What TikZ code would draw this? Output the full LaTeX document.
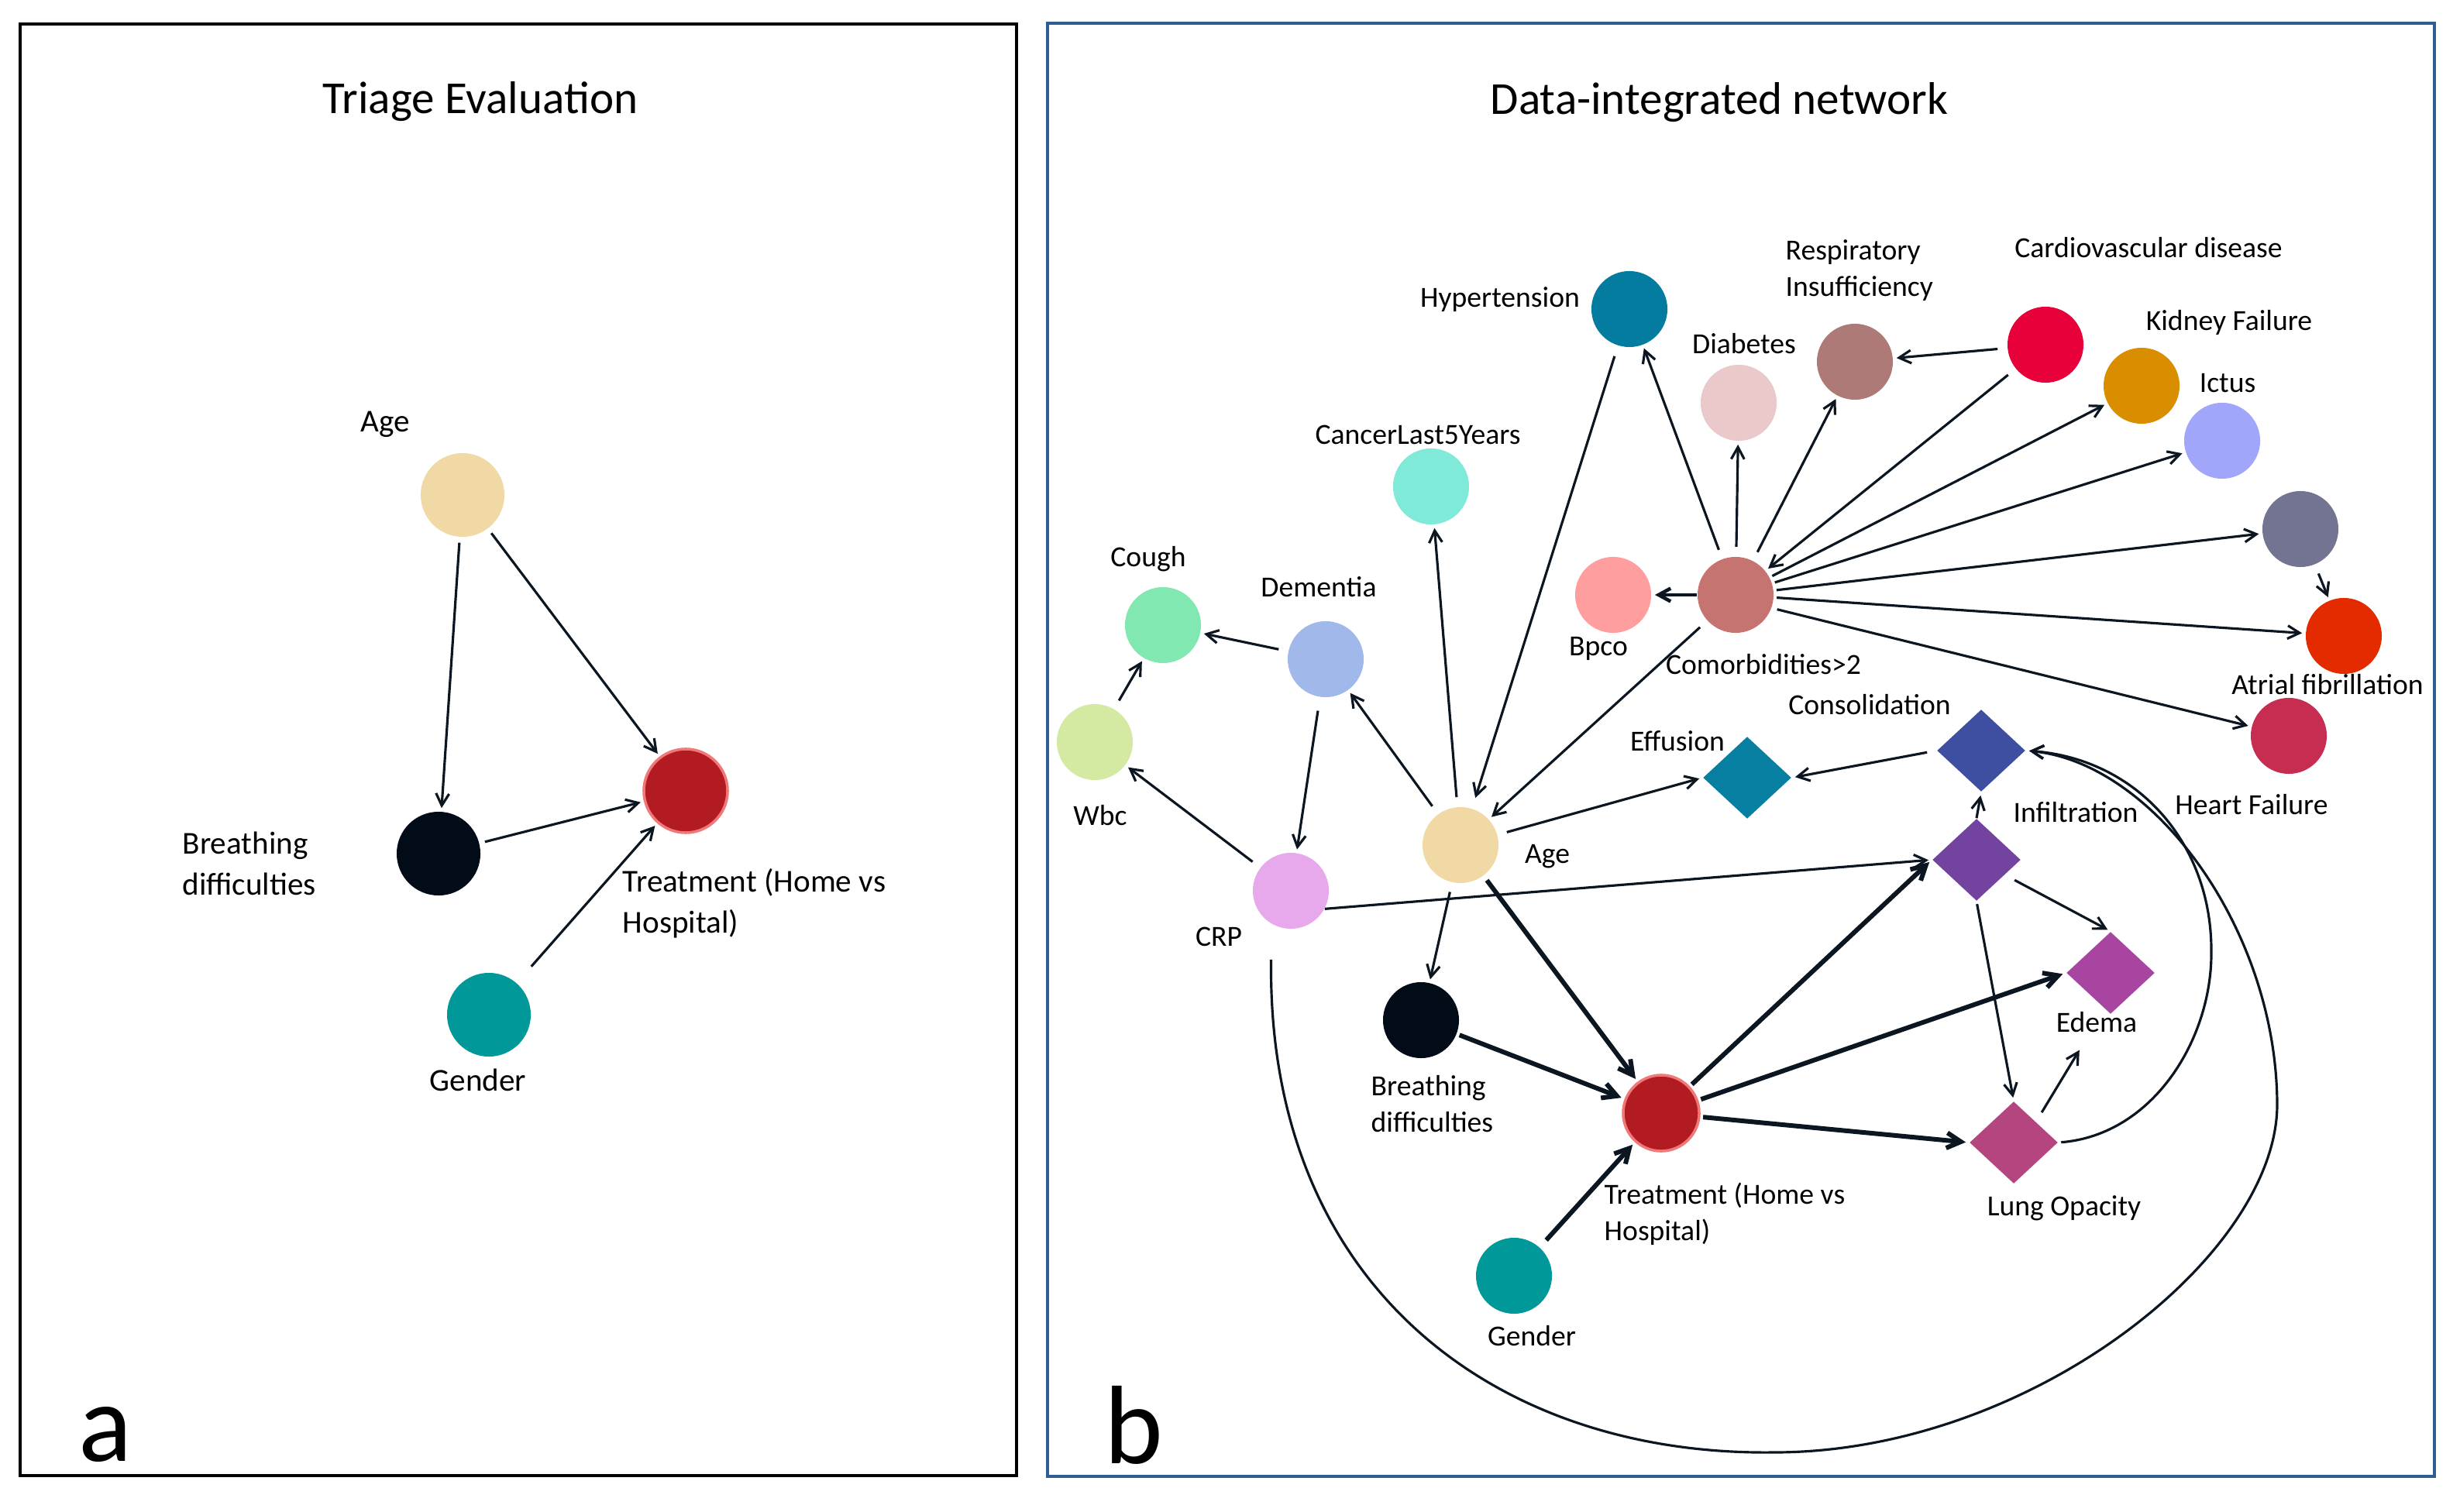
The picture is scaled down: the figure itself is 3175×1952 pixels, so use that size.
\documentclass[tikz,border=0pt]{standalone}
\usepackage{fontspec}
\setmainfont{Carlito}
\usetikzlibrary{shapes.geometric,arrows.meta}
\definecolor{cAge}{HTML}{F1D9A5}
\definecolor{cBr}{HTML}{020C18}
\definecolor{cTr}{HTML}{B31B23}
\definecolor{cTrRing}{HTML}{F07878}
\definecolor{cGe}{HTML}{009898}
\definecolor{cHyp}{HTML}{037CA0}
\definecolor{cDia}{HTML}{E9C9C9}
\definecolor{cRes}{HTML}{AE7A78}
\definecolor{cCar}{HTML}{E8003A}
\definecolor{cKid}{HTML}{D98E00}
\definecolor{cIct}{HTML}{A1A6FA}
\definecolor{cGray}{HTML}{737491}
\definecolor{cAF}{HTML}{E42B00}
\definecolor{cHF}{HTML}{C72C51}
\definecolor{cCan}{HTML}{80EAD9}
\definecolor{cCou}{HTML}{82E8B1}
\definecolor{cDem}{HTML}{A1B8EA}
\definecolor{cBpc}{HTML}{FF9E9E}
\definecolor{cCom}{HTML}{C67472}
\definecolor{cWbc}{HTML}{D4EAA3}
\definecolor{cCrp}{HTML}{E8A8EC}
\definecolor{cEff}{HTML}{067FA1}
\definecolor{cCon}{HTML}{3E4EA0}
\definecolor{cInf}{HTML}{7244A0}
\definecolor{cEde}{HTML}{A845A1}
\definecolor{cLO}{HTML}{B5457F}
\definecolor{cFrame}{HTML}{2E5E92}
\definecolor{cLine}{HTML}{0B1621}
\begin{document}
\begin{tikzpicture}[x=0.01cm,y=-0.01cm,
  dot/.style={circle,inner sep=0pt,minimum size=0.98cm,draw=none},
  dota/.style={circle,inner sep=0pt,minimum size=1.08cm,draw=none},
  dia/.style={diamond,inner sep=0pt,minimum width=1.14cm,minimum height=1.06cm,draw=none},
  lab/.style={font=\fontsize{10.7}{13.4}\selectfont,inner sep=0pt,align=left},
  laba/.style={font=\fontsize{11.7}{15.1}\selectfont,inner sep=0pt,align=left},
  ttl/.style={font=\fontsize{16.8}{20}\selectfont,inner sep=0pt},
  big/.style={font=\fontsize{41}{41}\selectfont,inner sep=0pt},
  arr/.style={-{Straight Barb[length=4.4pt,width=4.8pt]},line width=0.9pt,cLine,shorten <=3.5pt,shorten >=1.2pt},
  thk/.style={arr,-{Straight Barb[length=5.2pt,width=5.6pt]},line width=1.7pt},
]
\useasboundingbox (0,0) rectangle (3175,1952);
\fill[white] (0,0) rectangle (3175,1952);

% ---------- panel a ----------
\draw[line width=1pt] (26,31) rectangle (1312,1905);
\node[ttl] (aTitle) at (620,131) {Triage Evaluation};
\node[big,anchor=base] (aLet) at (136,1886) {a};

\node[dota,fill=cAge] (aAge) at (597,639) {};
\node[dota,fill=cBr] (aBr) at (566,1102) {};
\node[dota,fill=cTr,draw=cTrRing,line width=1pt] (aTr) at (885,1021) {};
\node[dota,fill=cGe] (aGe) at (631,1310) {};

\node[laba] (aAgeL) at (497,548) {Age};
\node[laba,anchor=west] (aBrL) at (235,1115) {Breathing\\difficulties};
\node[laba,anchor=west] (aTrL) at (803,1166) {Treatment (Home vs\\Hospital)};
\node[laba] (aGeL) at (617,1394) {Gender};

\draw[arr,shorten <=2pt] (aAge) -- (aBr);
\draw[arr,shorten <=2pt] (aAge) -- (aTr);
\draw[arr,shorten <=2pt] (aBr) -- (aTr);
\draw[arr,shorten <=8pt] (aGe) -- (aTr);

% ---------- panel b ----------
\draw[cFrame,line width=1.1pt] (1352,30) rectangle (3142,1906);
\node[ttl] (bTitle) at (2219,132) {Data-integrated network};
\node[big,anchor=base] (bLet) at (1463,1889) {b};

\node[dot,fill=cHyp] (Hyp) at (2103,399) {};
\node[dot,fill=cDia] (Dia) at (2244,520) {};
\node[dot,fill=cRes] (Res) at (2394,467) {};
\node[dot,fill=cCar] (Car) at (2640,445) {};
\node[dot,fill=cKid] (Kid) at (2764,498) {};
\node[dot,fill=cIct] (Ict) at (2868,569) {};
\node[dot,fill=cGray] (Gry) at (2969,683) {};
\node[dot,fill=cAF] (AF) at (3025,821) {};
\node[dot,fill=cHF] (HF) at (2954,950) {};
\node[dot,fill=cCan] (Can) at (1847,628) {};
\node[dot,fill=cCou] (Cou) at (1501,807) {};
\node[dot,fill=cDem] (Dem) at (1711,851) {};
\node[dot,fill=cBpc] (Bpc) at (2082,768) {};
\node[dot,fill=cCom] (Com) at (2240,768) {};
\node[dot,fill=cWbc] (Wbc) at (1413,958) {};
\node[dot,fill=cAge] (Age) at (1885,1091) {};
\node[dot,fill=cCrp] (Crp) at (1666,1150) {};
\node[dot,fill=cBr] (Br) at (1834,1317) {};
\node[dot,fill=cTr,draw=cTrRing,line width=1pt] (Tr) at (2144,1437) {};
\node[dot,fill=cGe] (Ge) at (1954,1647) {};
\node[dia,fill=cEff] (Eff) at (2255,1004) {};
\node[dia,fill=cCon] (Con) at (2557,969) {};
\node[dia,fill=cInf] (Inf) at (2551,1110) {};
\node[dia,fill=cEde] (Ede) at (2724,1256) {};
\node[dia,fill=cLO] (LO) at (2599,1475) {};

\node[lab] (HypL) at (1936,387) {Hypertension};
\node[lab] (DiaL) at (2251,444) {Diabetes};
\node[lab,anchor=west] (ResL) at (2304,349) {Respiratory\\Insufficiency};
\node[lab] (CarL) at (2773,320) {Cardiovascular disease};
\node[lab] (KidL) at (2877,416) {Kidney Failure};
\node[lab] (IctL) at (2875,495) {Ictus};
\node[lab] (AFL) at (3004,884) {Atrial fibrillation};
\node[lab] (HFL) at (2906,1039) {Heart Failure};
\node[lab] (CanL) at (1830,561) {CancerLast5Years};
\node[lab] (CouL) at (1482,722) {Cough};
\node[lab] (DemL) at (1702,758) {Dementia};
\node[lab] (BpcL) at (2063,837) {Bpco};
\node[lab] (ComL) at (2276,858) {Comorbidities>2};
\node[lab] (WbcL) at (1420,1053) {Wbc};
\node[lab] (AgeL) at (1997,1106) {Age};
\node[lab] (CrpL) at (1573,1209) {CRP};
\node[lab,anchor=west] (BrL) at (1769,1425) {Breathing\\difficulties};
\node[lab,anchor=west] (TrL) at (2070,1567) {Treatment (Home vs\\Hospital)};
\node[lab] (GeL) at (1977,1725) {Gender};
\node[lab] (EffL) at (2165,957) {Effusion};
\node[lab] (ConL) at (2413,910) {Consolidation};
\node[lab] (InfL) at (2679,1049) {Infiltration};
\node[lab] (EdeL) at (2706,1320) {Edema};
\node[lab] (LOL) at (2664,1560) {Lung Opacity};

\coordinate (edTip) at (2686,1352);

% comorbidities fan
\draw[arr] (Com) -- (Hyp);
\draw[arr] (Com) -- (Dia);
\draw[arr] (Com) -- (Res);
\draw[arr] (Car) -- (Res);
\draw[arr] (Car) -- (Com);
\draw[arr,shorten <=1pt] (Com) -- (Kid);
\draw[arr,shorten <=1pt] (Com) -- (Ict);
\draw[arr,shorten <=1pt] (Com) -- (Gry);
\draw[arr] (Gry) -- (AF);
\draw[arr,shorten <=1pt] (Com) -- (AF);
\draw[arr,shorten <=2pt] (Com.-20) -- (HF);
\draw[arr,line width=1.3pt,shorten <=0pt] (Com) -- (Bpc);
\draw[arr] (Com) -- (Age);
\draw[arr,shorten <=4pt,shorten >=4pt] (Hyp) -- (Age);
% age and left cluster
\draw[arr] (Age) -- (Can);
\draw[arr] (Age) -- (Dem);
\draw[arr] (Dem) -- (Cou);
\draw[arr] (Wbc) -- (Cou);
\draw[arr,shorten <=5pt] (Dem) -- (Crp);
\draw[arr] (Crp) -- (Wbc);
\draw[arr] (Age) -- (Br);
\draw[arr] (Age) -- (Eff.west);
\draw[arr] (Con.west) -- (Eff.east);
\draw[arr,shorten <=0pt] (Inf.north) -- (Con.south);
\draw[arr,shorten <=0pt] (Crp.-28) -- (Inf.west);
% treatment
\draw[thk,shorten <=2pt] (Age) -- (Tr);
\draw[thk,shorten <=1pt] (Br) -- (Tr);
\draw[thk] (Ge) -- (Tr);
\draw[thk,shorten <=1pt] (Tr) -- (Inf.west);
\draw[thk,shorten <=1pt] (Tr) -- (Ede.west);
\draw[thk,shorten <=1pt] (Tr) -- (LO.west);
% imaging findings
\draw[arr,shorten <=4pt] (Inf) -- (Ede.north);
\draw[arr,shorten <=1pt] (Inf.south) -- (LO.north);
\draw[arr,shorten <=4pt] (LO.north east) -- (edTip);
\draw[arr,shorten <=1pt] (LO.east) .. controls (2780,1465) and (2855,1340) .. (2854,1229)
   .. controls (2855,1090) and (2760,980) .. (Con.east);
\draw[arr,shorten <=13pt] (Crp.-120) .. controls (1635,1660) and (1930,1880) .. (2290,1875)
   .. controls (2620,1875) and (2940,1620) .. (2939,1425)
   .. controls (2938,1200) and (2780,985) .. (Con.east);
\end{tikzpicture}
\end{document}
